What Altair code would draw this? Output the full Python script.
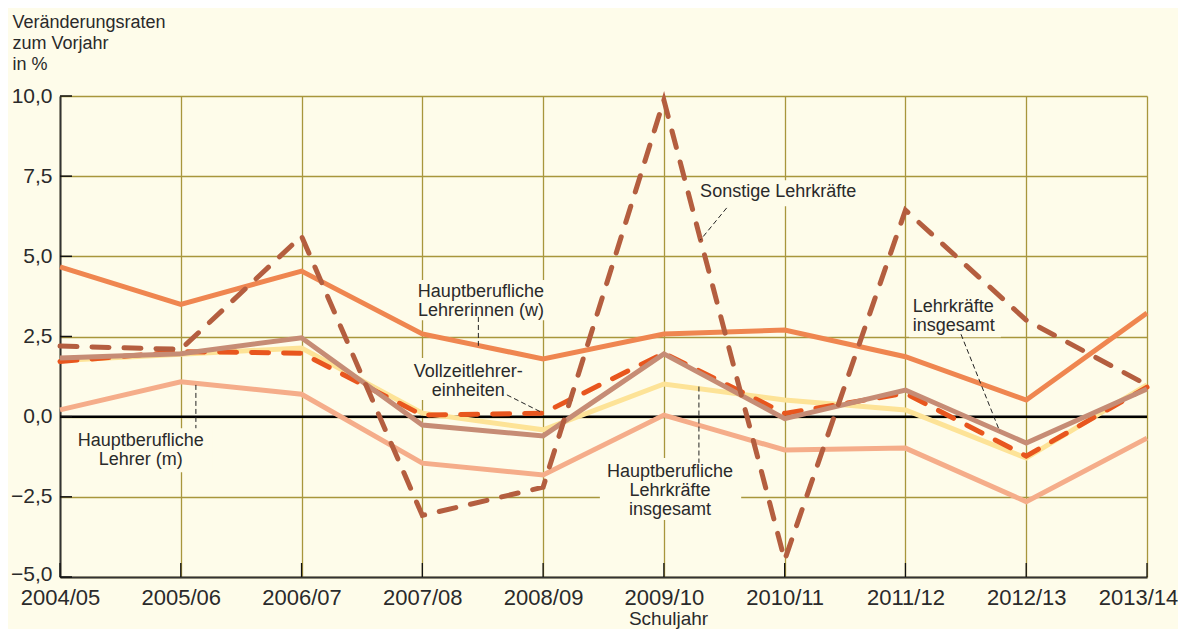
import altair as alt
import pandas as pd

# ---------------- data ----------------
years = ["2004/05", "2005/06", "2006/07", "2007/08", "2008/09",
         "2009/10", "2010/11", "2011/12", "2012/13", "2013/14"]

lehrer_m = [0.21, 1.09, 0.70, -1.45, -1.82, 0.05, -1.04, -0.98, -2.65, -0.67]
lehrerinnen_w = [4.67, 3.50, 4.54, 2.58, 1.80, 2.58, 2.70, 1.87, 0.52, 3.23]
hb_lehrkraefte = [1.75, 1.95, 2.14, 0.11, -0.41, 1.02, 0.52, 0.21, -1.29, 0.99]
vollzeit = [1.72, 2.03, 1.98, 0.05, 0.11, 1.98, 0.10, 0.73, -1.23, 0.92]
lehrkraefte_ges = [1.83, 1.96, 2.46, -0.26, -0.60, 1.96, -0.06, 0.83, -0.82, 0.86]
sonstige = [2.20, 2.10, 5.63, -3.08, -2.20, 9.87, -4.47, 6.44, 3.01, 0.99]

series_names = ["Hauptberufliche Lehrer (m)", "Hauptberufliche Lehrerinnen (w)",
                "Hauptberufliche Lehrkräfte insgesamt", "Vollzeitlehrereinheiten",
                "Lehrkräfte insgesamt", "Sonstige Lehrkräfte"]
series_values = [lehrer_m, lehrerinnen_w, hb_lehrkraefte, vollzeit, lehrkraefte_ges, sonstige]
series_colors = ["#F5AD8A", "#EF8650", "#FDE397", "#E8561E", "#C68C75", "#B45E3F"]
series_dashed = [False, False, False, True, False, True]

y_ticks = [-5, -2.5, 0, 2.5, 5, 7.5, 10]

# annotation texts (data coordinates: x = Schuljahr index, y = %)
ann_labels = [["Sonstige Lehrkräfte"],
              ["Hauptberufliche", "Lehrerinnen (w)"],
              ["Vollzeitlehrer-", "einheiten"],
              ["Hauptberufliche", "Lehrkräfte", "insgesamt"],
              ["Lehrkräfte", "insgesamt"],
              ["Hauptberufliche", "Lehrer (m)"]]
ann_x = [5.30, 3.485, 3.38, 5.05, 7.06, 0.669]
ann_y = [7.29, 4.18, 1.68, -1.44, 3.71, -0.48]
ann_align = ["left", "center", "center", "center", "left", "center"]

# leader lines
lead_x1 = [5.52, 3.464, 3.70, 5.29, 7.46, 1.125]
lead_y1 = [6.51, 3.11, 0.68, 0.94, 2.57, 0.99]
lead_x2 = [5.30, 3.464, 3.995, 5.29, 7.78, 1.125]
lead_y2 = [5.50, 2.21, 0.12, -1.44, -0.45, -0.36]

# label background boxes (hide grid behind labels)
box_x1 = [5.26, 2.90, 2.86, 4.47, 7.03, 0.08]
box_x2 = [6.71, 4.06, 3.89, 5.64, 7.79, 1.26]
box_y1 = [7.37, 4.26, 1.83, -1.29, 3.80, -0.36]
box_y2 = [6.56, 3.01, 0.52, -3.22, 2.48, -1.73]

# ---------------- style ----------------
BG = "#FEFCEA"
GRID = "#A8963C"
TXT = "#2A2A2A"
FONT = "Liberation Sans"
W, H = 1087, 481

rows = []
for name, vals in zip(series_names, series_values):
    for i, v in enumerate(vals):
        rows.append({"serie": name, "idx": i, "wert": v})
df = pd.DataFrame(rows)

x_scale = alt.Scale(domain=[0, 9], nice=False, zero=False)
y_scale = alt.Scale(domain=[-5, 10], nice=False, zero=False)

year_expr = "[" + ",".join("'%s'" % y for y in years) + "][datum.value]"
last_idx = len(years) - 1

x_axis = alt.Axis(values=list(range(len(years))), labelExpr=year_expr, grid=True,
                  gridColor=GRID, gridWidth=1.3, ticks=False, domainColor="#333333",
                  domainWidth=2, labelFontSize=22, labelFont=FONT, labelColor=TXT,
                  labelPadding=10, labelFlush=False, labelOverlap=False, labelBound=False,
                  labelOffset={"condition": {"test": "datum.value == %d" % last_idx,
                                             "value": -9}, "value": 0},
                  title="Schuljahr", titleFont=FONT, titleFontSize=19,
                  titleFontWeight="normal", titleColor=TXT, titleX=608, titleY=32,
                  titleAlign="center", titleBaseline="top", titleAnchor="start")
y_axis = alt.Axis(values=y_ticks,
                  labelExpr="replace(format(datum.value, '.1f'), '.', ',')",
                  grid=True, gridColor=GRID, gridWidth=1.3, ticks=False,
                  domainColor="#333333", domainWidth=2, labelFontSize=21,
                  labelFont=FONT, labelColor=TXT, labelPadding=8,
                  labelOffset={"condition": {"test": "datum.value == -5", "value": -3},
                               "value": 0},
                  title=["Veränderungsraten", "zum Vorjahr", "in %"], titleFont=FONT,
                  titleFontSize=18, titleFontWeight="normal", titleColor=TXT,
                  titleAngle=0, titleAlign="left", titleBaseline="top",
                  titleX=-48, titleY=-83, titleLineHeight=21, titleAnchor="start")


def X(field):
    return alt.X(field, type="quantitative", scale=x_scale, axis=x_axis)


def Y(field):
    return alt.Y(field, type="quantitative", scale=y_scale, axis=y_axis)


layers = []

# background boxes for labels
box_df = pd.DataFrame({"x1": box_x1, "x2": box_x2, "y1": box_y1, "y2": box_y2})
layers.append(alt.Chart(box_df).mark_rect(fill=BG, stroke=None).encode(
    x=X("x1"), x2="x2", y=Y("y1"), y2="y2"))

# zero line
zero_df = pd.DataFrame({"wert": [0]})
layers.append(alt.Chart(zero_df).mark_rule(color="#000000", strokeWidth=2.5).encode(
    y=Y("wert")))

# inner ticks
ytick_df = pd.DataFrame({"wert": y_ticks})
layers.append(alt.Chart(ytick_df).mark_rule(color="#111111", strokeWidth=1.5).encode(
    y=Y("wert"), x=alt.value(0), x2=alt.value(12)))
xtick_df = pd.DataFrame({"idx": list(range(len(years)))})
layers.append(alt.Chart(xtick_df).mark_rule(color="#111111", strokeWidth=1.3).encode(
    x=X("idx"), y=alt.value(H), y2=alt.value(H - 14)))

# data lines
for name, col, dashed in zip(series_names, series_colors, series_dashed):
    sub = df[df["serie"] == name]
    if dashed:
        mk = alt.Chart(sub).mark_line(color=col, strokeWidth=5, strokeDash=[17, 15],
                                      strokeCap="round")
    else:
        mk = alt.Chart(sub).mark_line(color=col, strokeWidth=5)
    layers.append(mk.encode(x=X("idx"), y=Y("wert")))

# leader lines
lead_df = pd.DataFrame({"x1": lead_x1, "y1": lead_y1, "x2": lead_x2, "y2": lead_y2})
layers.append(alt.Chart(lead_df).mark_rule(color="#222222", strokeWidth=1,
                                           strokeDash=[5, 3]).encode(
    x=X("x1"), y=Y("y1"), x2="x2", y2="y2"))

# annotation labels
ann_df = pd.DataFrame({"label": ann_labels, "x": ann_x, "y": ann_y, "align": ann_align})
for al in ["left", "center"]:
    sub = ann_df[ann_df["align"] == al]
    layers.append(alt.Chart(sub).mark_text(align=al, baseline="top", font=FONT,
                                           fontSize=18, lineHeight=19, color=TXT).encode(
        x=X("x"), y=Y("y"), text="label"))

chart = alt.layer(*layers).properties(
    width=W, height=H,
    padding={"left": 52, "top": 88, "right": 31, "bottom": 52},
    autosize=alt.AutoSizeParams(type="none"),
    background=BG,
).configure_view(stroke=None, fill=BG)

chart.save("out.html", embed_options={"renderer": "svg", "actions": False})
